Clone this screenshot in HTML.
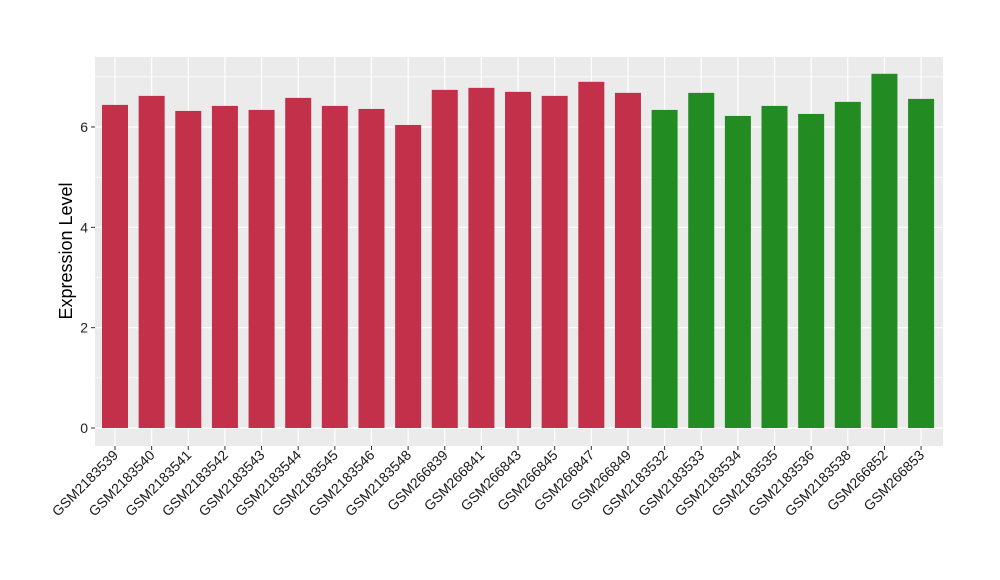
<!DOCTYPE html>
<html><head><meta charset="utf-8"><style>
body{margin:0;background:#fff}
svg{display:block;font-family:"Liberation Sans",sans-serif}
</style></head><body>
<svg id="chart" width="1000" height="580">
<rect x="95" y="57" width="848" height="389" fill="#ebebeb"/>
<g id="grid"></g><g id="bars"></g><g id="axes"></g>
<text transform="translate(72,251) rotate(-90)" text-anchor="middle" font-size="18" fill="#000">Expression Level</text>
</svg>
<script>
const categories=["GSM2183539","GSM2183540","GSM2183541","GSM2183542","GSM2183543","GSM2183544","GSM2183545","GSM2183546","GSM2183548","GSM266839","GSM266841","GSM266843","GSM266845","GSM266847","GSM266849","GSM2183532","GSM2183533","GSM2183534","GSM2183535","GSM2183536","GSM2183538","GSM266852","GSM266853"];
const values=[6.44,6.62,6.32,6.42,6.34,6.58,6.42,6.36,6.04,6.74,6.78,6.70,6.62,6.90,6.68,6.34,6.68,6.22,6.42,6.26,6.50,7.06,6.56];
const groups=["a","a","a","a","a","a","a","a","a","a","a","a","a","a","a","b","b","b","b","b","b","b","b"];
const yTicks=[0,2,4,6];
const yMinor=[1,3,5,7];
const colors={a:"#c3304a",b:"#228b22"};
const NS="http://www.w3.org/2000/svg";
const y=v=>428-v*50.17;
const x=i=>115+i*36.64;
const bw=26;
function mk(tag,attrs,parent){const e=document.createElementNS(NS,tag);for(const k in attrs)e.setAttribute(k,attrs[k]);document.getElementById(parent).appendChild(e);return e;}
yMinor.forEach(v=>{const l=mk("line",{x1:95,x2:943,y1:y(v),y2:y(v),stroke:"#fff","stroke-width":0.6},"grid");

});
yTicks.forEach(v=>{const l=mk("line",{x1:95,x2:943,y1:y(v),y2:y(v),stroke:"#fff","stroke-width":1.2},"grid");


const t=mk("line",{x1:91,x2:95,y1:y(v),y2:y(v),stroke:"#333","stroke-width":1},"axes");


const tx=mk("text",{x:88,y:y(v)+5,"text-anchor":"end","font-size":14,fill:"#222"},"axes");tx.textContent=v;

});
categories.forEach((c,i)=>{const g=mk("line",{x1:x(i),x2:x(i),y1:57,y2:446,stroke:"#fff","stroke-width":1.2},"grid");


const b=mk("rect",{x:x(i)-bw/2,y:y(values[i]),width:bw,height:y(0)-y(values[i]),fill:colors[groups[i]]},"bars");


const t=mk("line",{x1:x(i),x2:x(i),y1:446,y2:450,stroke:"#333","stroke-width":1},"axes");


const tx=mk("text",{transform:`translate(${x(i)+4},456) rotate(-45)`,"text-anchor":"end","font-size":14,fill:"#1a1a1a"},"axes");tx.textContent=c;

});
</script>
</body></html>
